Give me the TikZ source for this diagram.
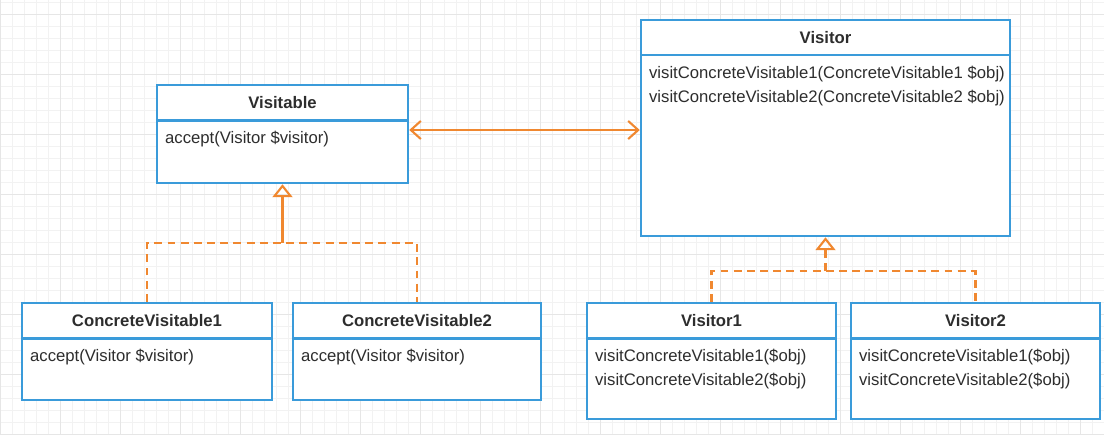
\documentclass[tikz,border=0pt]{standalone}
\usepackage{fontspec}
\setmainfont{Liberation Sans}
\usetikzlibrary{arrows.meta,positioning}
\definecolor{umlblue}{RGB}{58,155,218}
\definecolor{umlorange}{RGB}{240,136,48}
\definecolor{umltext}{RGB}{45,45,45}
\definecolor{gridminor}{RGB}{242,242,242}
\definecolor{gridmajor}{RGB}{230,230,230}

\begin{document}
\begin{tikzpicture}[x=1cm,y=1cm]
\tikzset{
  classbox/.style={rectangle,draw=umlblue,line width=1.4pt,fill=white,inner sep=0pt},
  classname/.style={font=\fontsize{9.5}{11}\selectfont\bfseries,text=umltext,inner sep=0pt},
  classbody/.style={font=\fontsize{9.5}{13.6}\selectfont,text=umltext,align=left,anchor=north west,inner sep=0pt},
  divider/.style={draw=umlblue,line width=1.4pt},
  assoc/.style={draw=umlorange,line width=1.2pt,{Straight Barb[length=2mm,width=3.6mm]}-{Straight Barb[length=2mm,width=3.6mm]}},
  realize/.style={draw=umlorange,line width=1.2pt,dash pattern=on 4.5pt off 3pt},
  generalize/.style={draw=umlorange,line width=1.2pt,-{Triangle[open,length=2.6mm,width=4mm]}}
}
\useasboundingbox (0,0) rectangle (22.08,8.68);
% background grid
\draw[gridminor,line width=0.3pt,step=0.24cm] (-0.12,-0.12) grid (22.2,8.8);
\draw[gridmajor,line width=0.3pt,step=1.2cm] (-0.12,-0.12) grid (22.2,8.8);

% classes
\node[classbox,minimum width=5.02cm,minimum height=1.96cm] (visitable) at (5.65,6.00) {};
\node[classbox,minimum width=7.38cm,minimum height=4.32cm] (visitor) at (16.51,6.12) {};
\node[classbox,minimum width=5.00cm,minimum height=1.94cm] (cv1) at (2.94,1.65) {};
\node[classbox,minimum width=4.96cm,minimum height=1.94cm] (cv2) at (8.34,1.65) {};
\node[classbox,minimum width=4.98cm,minimum height=2.32cm] (visitor1) at (14.23,1.46) {};
\node[classbox,minimum width=4.98cm,minimum height=2.32cm] (visitor2) at (19.51,1.46) {};

\foreach \cls in {visitable,visitor,cv1,cv2,visitor1,visitor2}
  \draw[divider] ([yshift=-0.73cm]\cls.north west) -- ([yshift=-0.73cm]\cls.north east);

\node[classname] (visitable-name) at ([yshift=-0.37cm]visitable.north) {Visitable};
\node[classname] (visitor-name) at ([yshift=-0.37cm]visitor.north) {Visitor};
\node[classname] (cv1-name) at ([yshift=-0.37cm]cv1.north) {ConcreteVisitable1};
\node[classname] (cv2-name) at ([yshift=-0.37cm]cv2.north) {ConcreteVisitable2};
\node[classname] (visitor1-name) at ([yshift=-0.37cm]visitor1.north) {Visitor1};
\node[classname] (visitor2-name) at ([yshift=-0.37cm]visitor2.north) {Visitor2};

\node[classbody] (visitable-ops) at ([xshift=0.18cm,yshift=-0.95cm]visitable.north west) {accept(Visitor \$visitor)};
\node[classbody] (visitor-ops) at ([xshift=0.18cm,yshift=-0.95cm]visitor.north west)
  {visitConcreteVisitable1(ConcreteVisitable1 \$obj)\\visitConcreteVisitable2(ConcreteVisitable2 \$obj)};
\node[classbody] (cv1-ops) at ([xshift=0.18cm,yshift=-0.95cm]cv1.north west) {accept(Visitor \$visitor)};
\node[classbody] (cv2-ops) at ([xshift=0.18cm,yshift=-0.95cm]cv2.north west) {accept(Visitor \$visitor)};
\node[classbody] (visitor1-ops) at ([xshift=0.18cm,yshift=-0.95cm]visitor1.north west)
  {visitConcreteVisitable1(\$obj)\\visitConcreteVisitable2(\$obj)};
\node[classbody] (visitor2-ops) at ([xshift=0.18cm,yshift=-0.95cm]visitor2.north west)
  {visitConcreteVisitable1(\$obj)\\visitConcreteVisitable2(\$obj)};

% relations
\coordinate (assoc-left) at ([yshift=0.08cm]visitable.east);
\draw[assoc] (assoc-left) -- (assoc-left -| visitor.west);

\coordinate (visitable-join) at ([yshift=-1.18cm]visitable.south);
\draw[realize] (cv1.north) |- (visitable-join) -| (cv2.north);
\draw[generalize] (visitable-join) -- (visitable.south);

\coordinate (visitor-join) at ([yshift=-0.68cm]visitor.south);
\draw[realize] (visitor1.north) |- (visitor-join) -| (visitor2.north);
\draw[realize,generalize] (visitor-join) -- (visitor.south);
\end{tikzpicture}
\end{document}
